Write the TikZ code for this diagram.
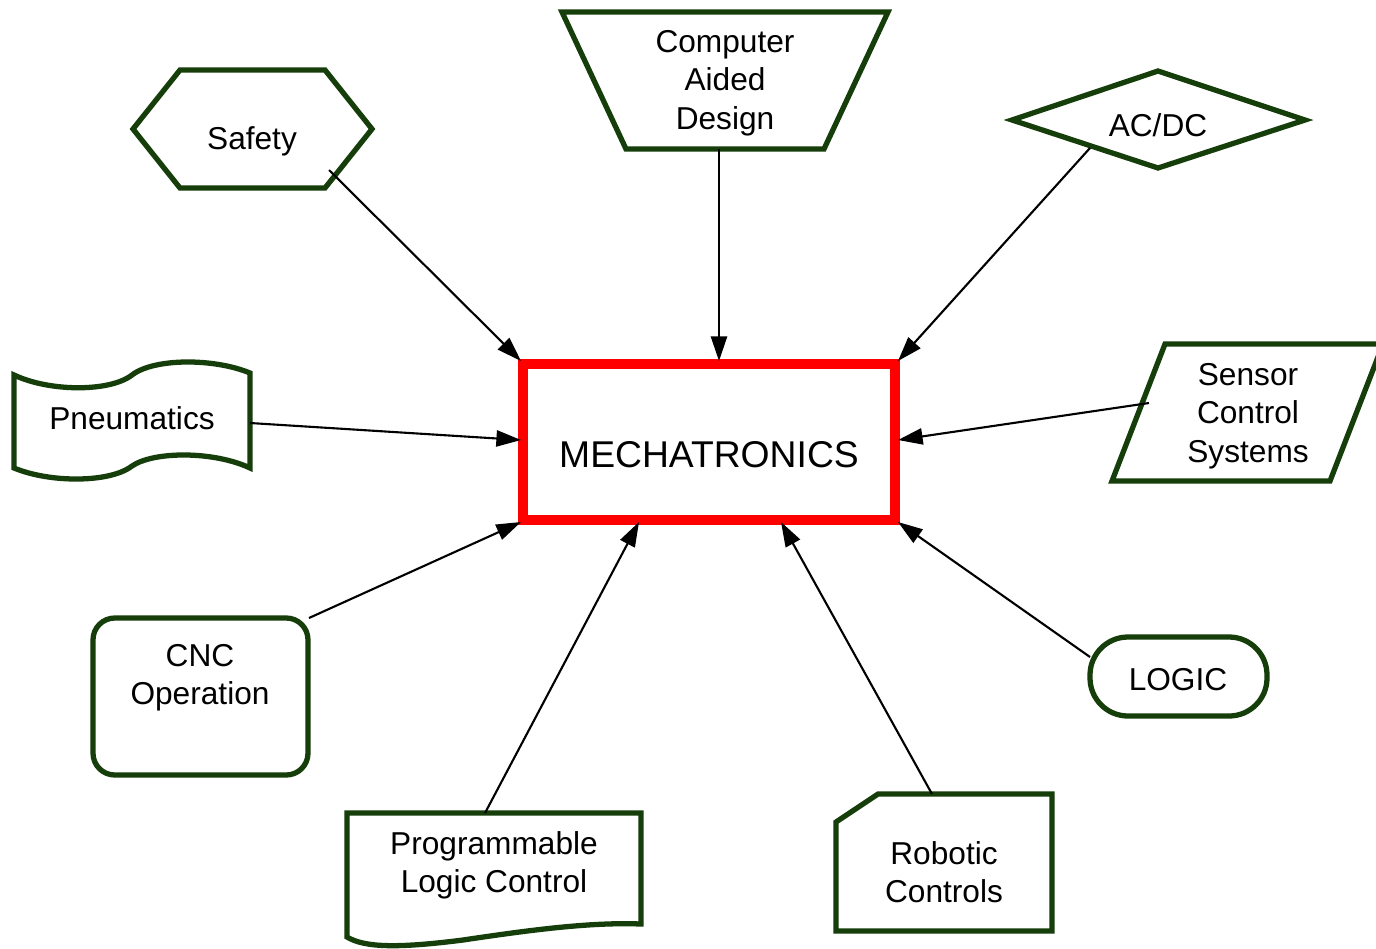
\documentclass[tikz,border=0pt]{standalone}
\usepackage{fontspec}
\setmainfont{Liberation Sans}
\usetikzlibrary{arrows.meta}
\definecolor{dgreen}{RGB}{22,62,11}
\definecolor{mred}{RGB}{255,0,0}
\tikzset{
  shapeline/.style={draw=dgreen, line width=1.5pt, fill=white, line join=miter},
  label/.style={font=\fontsize{9pt}{10.9pt}\selectfont, align=center, inner sep=0pt},
  conn/.style={line width=0.6pt, -{Triangle[length=7pt,width=4.6pt]}},
}
\begin{document}
\begin{tikzpicture}[x=0.01cm, y=-0.01cm]
\useasboundingbox (0,0) rectangle (1376,948);
\fill[white] (0,0) rectangle (1376,948);

% shapes
\draw[shapeline] (133,129) -- (180,70) -- (325,70) -- (372,129) -- (325,188) -- (180,188) -- cycle;
\draw[shapeline] (562,12) -- (888,12) -- (824,149) -- (626,149) -- cycle;
\draw[shapeline] (1012,120) -- (1158,71) -- (1305,120) -- (1158,168) -- cycle;
\draw[shapeline] (1112,481) -- (1165,344) -- (1383,344) -- (1330,481) -- cycle;
\draw[shapeline] (14,375) .. controls (50,392) and (110,392) .. (132,375)
  .. controls (154,358) and (214,358) .. (250,373) -- (250,468)
  .. controls (214,451) and (154,451) .. (132,466)
  .. controls (110,483) and (50,483) .. (14,468) -- cycle;
\draw[shapeline, rounded corners=6.2pt] (93,618) rectangle (308,775);
\draw[shapeline, rounded corners=10.8pt] (1090,637) rectangle (1267,716);
\draw[shapeline] (347,813) -- (641,813) -- (641,924)
  .. controls (590,922) and (530,930) .. (463,940)
  .. controls (400,948) and (365,948) .. (347,937) -- cycle;
\draw[shapeline] (836,822) -- (878,794) -- (1052,794) -- (1052,931) -- (836,931) -- cycle;
\draw[draw=mred, line width=2.9pt, fill=white] (523,364) rectangle (895,520);

% texts
\node[label, font=\fontsize{10.6pt}{12pt}\selectfont] (mech) at (709,455) {MECHATRONICS};
\node[label] (safety) at (252,141) {Safety};
\node[label] (cad) at (725,83) {Computer\\Aided\\Design};
\node[label] (acdc) at (1158,125) {AC/DC};
\node[label] (sensor) at (1248,416) {Sensor\\Control\\Systems};
\node[label] (pneu) at (132,418) {Pneumatics};
\node[label] (cnc) at (200,678) {CNC\\Operation};
\node[label] (logic) at (1178,680) {LOGIC};
\node[label] (plc) at (494,865) {Programmable\\Logic Control};
\node[label] (robot) at (944,872) {Robotic\\Controls};

% connector end points
\coordinate (safetyOut) at (329,170);
\coordinate (cadOut) at (719,149);
\coordinate (acdcOut) at (1090,148);
\coordinate (sensorOut) at (1149,403);
\coordinate (pneuOut) at (250,423);
\coordinate (cncOut) at (309,618);
\coordinate (plcOut) at (485,813);
\coordinate (robotOut) at (932,794);
\coordinate (logicOut) at (1090,657);

\coordinate (mechNW) at (521,361);
\coordinate (mechN) at (719,361);
\coordinate (mechNE) at (898,361);
\coordinate (mechE) at (898,440);
\coordinate (mechW) at (521,440);
\coordinate (mechSW) at (521,522);
\coordinate (mechS1) at (639,522);
\coordinate (mechS2) at (781,522);
\coordinate (mechSE) at (898,522);

\draw[conn] (safetyOut) -- (mechNW);
\draw[conn] (cadOut) -- (mechN);
\draw[conn] (acdcOut) -- (mechNE);
\draw[conn] (sensorOut) -- (mechE);
\draw[conn] (pneuOut) -- (mechW);
\draw[conn] (cncOut) -- (mechSW);
\draw[conn] (plcOut) -- (mechS1);
\draw[conn] (robotOut) -- (mechS2);
\draw[conn] (logicOut) -- (mechSE);
\end{tikzpicture}
\end{document}
